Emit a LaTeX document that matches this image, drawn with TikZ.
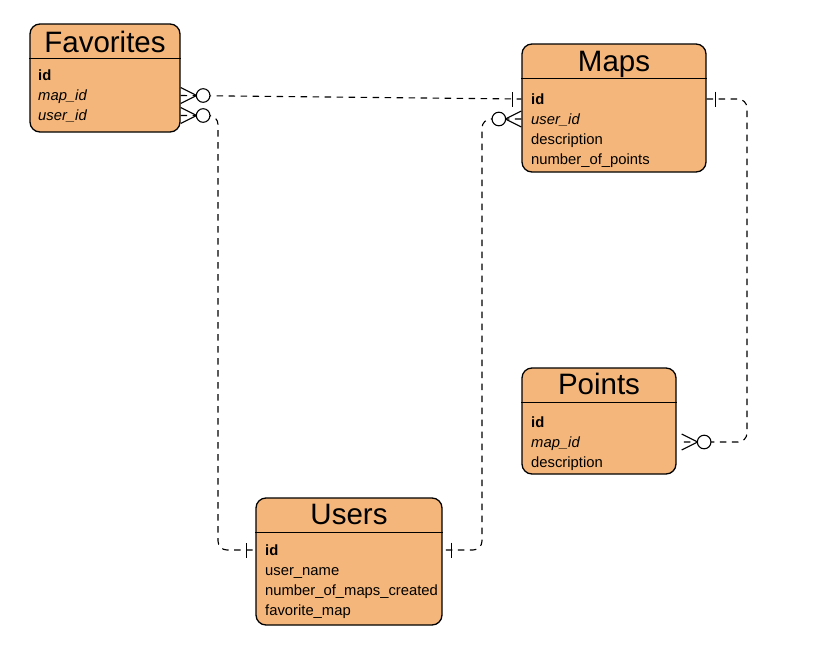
\documentclass[tikz,border=0pt]{standalone}
\usepackage{fontspec}
\setmainfont{Liberation Sans}
\usetikzlibrary{positioning,calc}
\definecolor{tblfill}{RGB}{244,182,122}

\begin{document}
\begin{tikzpicture}[
  x=1pt, y=-1pt,
  tbl/.style={draw, line width=1.3pt, fill=tblfill, rounded corners=10pt,
              inner sep=0pt},
  ttl/.style={anchor=base, inner sep=0pt, font=\fontsize{29.5}{32}\selectfont},
  fld/.style={anchor=base west, inner sep=0pt, text height=11pt, text depth=1pt,
              font=\fontsize{14.8}{17}\selectfont},
  key/.style={fld, font=\fontsize{14.8}{17}\selectfont\bfseries},
  fk/.style={fld, font=\fontsize{14.8}{17}\selectfont\itshape},
  sep/.style={line width=1.3pt},
  rel/.style={draw, line width=1.1pt, dash pattern=on 6.5pt off 5.5pt,
              rounded corners=9pt},
  zmany/.pic={
    \draw[line width=1.1pt] (0,-8) -- (16,0) -- (0,8);
    \draw[line width=1.1pt, fill=white] (22.5,0) circle (6.8pt);
  },
  one/.pic={\draw[line width=1.1pt] (9,-7.5) -- (9,7.5);},
]
\useasboundingbox (0,0) rectangle (817,648);

% tables
\node[tbl, minimum width=150pt, minimum height=108pt] (fav) at (105,78) {};
\node[tbl, minimum width=184pt, minimum height=128pt] (maps) at (614,108) {};
\node[tbl, minimum width=154pt, minimum height=106pt] (points) at (599,421) {};
\node[tbl, minimum width=186pt, minimum height=127pt] (users) at (349,561.5) {};

\foreach \t in {fav,maps,points,users}
  \draw[sep] ([yshift=-35pt]\t.north west) -- ([yshift=-35pt]\t.north east);

\node[ttl] (favT) at ([yshift=-29pt]fav.north) {Favorites};
\node[ttl] (mapsT) at ([yshift=-28pt]maps.north) {Maps};
\node[ttl] (pointsT) at ([yshift=-27pt]points.north) {Points};
\node[ttl] (usersT) at ([yshift=-27pt]users.north) {Users};

% fields
\node[key] (favId) at (38,80) {id};
\node[fk] (favMap) at ([yshift=-20.5pt]favId.base west) {map\_id};
\node[fk] (favUser) at ([yshift=-20pt]favMap.base west) {user\_id};

\node[key] (mapsId) at (531,104) {id};
\node[fk] (mapsUser) at ([yshift=-20pt]mapsId.base west) {user\_id};
\node[fld] (mapsDesc) at ([yshift=-20pt]mapsUser.base west) {description};
\node[fld] (mapsNum) at ([yshift=-20pt]mapsDesc.base west) {number\_of\_points};

\node[key] (pointsId) at (531,427) {id};
\node[fk] (pointsMap) at ([yshift=-20pt]pointsId.base west) {map\_id};
\node[fld] (pointsDesc) at ([yshift=-20pt]pointsMap.base west) {description};

\node[key] (usersId) at (265,555) {id};
\node[fld] (usersName) at ([yshift=-20pt]usersId.base west) {user\_name};
\node[fld] (usersNum) at ([yshift=-20pt]usersName.base west) {number\_of\_maps\_created};
\node[fld] (usersFav) at ([yshift=-20pt]usersNum.base west) {favorite\_map};

% relations
\coordinate (c2) at (218,0);
\coordinate (c3) at (482,0);
\coordinate (c4) at (747,0);

\draw[rel] (fav.east |- favMap) -- (maps.west |- mapsId);
\draw[rel] (fav.east |- favUser) -- (c2 |- favUser) -- (c2 |- usersId)
  -- (users.west |- usersId);
\draw[rel] (maps.west |- mapsUser) -- (c3 |- mapsUser) -- (c3 |- usersId)
  -- (users.east |- usersId);
\draw[rel] (maps.east |- mapsId) -- (c4 |- mapsId) -- (c4 |- pointsMap)
  -- ([xshift=5pt]points.east |- pointsMap);

\pic at (fav.east |- favMap) {zmany};
\pic at (fav.east |- favUser) {zmany};
\pic[rotate=180] at (maps.west |- mapsId) {one};
\pic[rotate=180] at (maps.west |- mapsUser) {zmany};
\pic at (maps.east |- mapsId) {one};
\pic at ([xshift=5pt]points.east |- pointsMap) {zmany};
\pic[rotate=180] at (users.west |- usersId) {one};
\pic at (users.east |- usersId) {one};
\end{tikzpicture}
\end{document}
